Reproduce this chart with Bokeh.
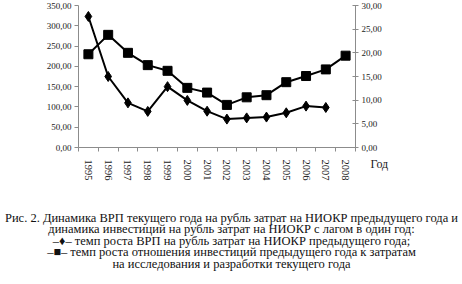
from bokeh.plotting import figure
from bokeh.models import (Range1d, LinearAxis, FixedTicker, Label)
from bokeh.embed import file_html
from bokeh.resources import INLINE

years = ["1995", "1996", "1997", "1998", "1999", "2000", "2001",
         "2002", "2003", "2004", "2005", "2006", "2007", "2008"]
grp_per_rnd = [323, 175, 110, 89, 150, 116, 89.5, 70, 73, 75, 85.5, 102, 98.6]
invest_ratio = [19.7, 23.8, 20.0, 17.4, 16.2, 12.6, 11.6, 9.0, 10.6, 11.05,
                13.8, 15.1, 16.5, 19.4]
left_ticks = [0, 50, 100, 150, 200, 250, 300, 350]
left_labels = ["0,00", "50,00", "100,00", "150,00", "200,00", "250,00", "300,00", "350,00"]
right_ticks = [0, 5, 10, 15, 20, 25, 30]
right_labels = ["0,00", "5,00", "10,00", "15,00", "20,00", "25,00", "30,00"]
caption = [
    "Рис. 2. Динамика ВРП текущего года на рубль затрат на НИОКР предыдущего года и",
    "динамика инвестиций на рубль затрат на НИОКР с лагом в один год:",
    "–♦– темп роста ВРП на рубль затрат на НИОКР предыдущего года;",
    "–■– темп роста отношения инвестиций предыдущего года к затратам",
    "на исследования и разработки текущего года",
]
x_title = "Год"

FONT = "Liberation Serif"
AX = "#8c8c8c"
W, H = 462, 284
# plot-area box in canvas pixels
PL, PR, PT, PB = 78, 355, 5, 147
n = len(years)
ymax_l, ymax_r = 350, 30

# map the whole canvas onto data ranges so that the plot area sits at PL..PR, PT..PB
xu = (PR - PL) / n
x_range = Range1d(-PL / xu, n + (W - PR) / xu)
yu_l = ymax_l / (PB - PT)
y_range = Range1d(-(H - PB) * yu_l, ymax_l + PT * yu_l)
yu_r = ymax_r / (PB - PT)
y_range_r = Range1d(-(H - PB) * yu_r, ymax_r + PT * yu_r)

p = figure(width=W, height=H, output_backend="svg", toolbar_location=None,
           x_range=x_range, y_range=y_range,
           min_border=0, outline_line_color=None,
           background_fill_color="white", border_fill_color="white",
           x_axis_type=None, y_axis_type=None)
p.xgrid.visible = False
p.ygrid.visible = False
p.extra_y_ranges = {"right": y_range_r}

xs_a = [i + 0.5 for i in range(len(grp_per_rnd))]
xs_b = [i + 0.5 for i in range(len(invest_ratio))]

# x axis
xaxis = LinearAxis(ticker=FixedTicker(ticks=[i + 0.5 for i in range(n)],
                                      minor_ticks=list(range(n + 1))),
                   fixed_location=0, bounds=(0, n))
xaxis.major_label_overrides = {i + 0.5: y for i, y in enumerate(years)}
xaxis.major_label_orientation = "vertical"
xaxis.major_tick_line_color = None
xaxis.minor_tick_line_color = AX
xaxis.minor_tick_in = 0
xaxis.minor_tick_out = 4
xaxis.axis_line_color = AX
xaxis.major_label_text_font = FONT
xaxis.major_label_text_font_size = "10.5px"
xaxis.major_label_text_color = "#222222"
xaxis.major_label_standoff = 6
p.add_layout(xaxis, "below")

# left axis
laxis = LinearAxis(ticker=FixedTicker(ticks=left_ticks), fixed_location=0,
                   bounds=(0, ymax_l))
laxis.major_label_overrides = {t: l for t, l in zip(left_ticks, left_labels)}
laxis.axis_line_color = AX
laxis.major_tick_line_color = AX
laxis.major_tick_in = 0
laxis.major_tick_out = 4
laxis.minor_tick_line_color = None
laxis.major_label_text_font = FONT
laxis.major_label_text_font_size = "9px"
laxis.major_label_text_color = "#222222"
laxis.major_label_standoff = 3
p.add_layout(laxis, "left")

# right axis
raxis = LinearAxis(y_range_name="right", ticker=FixedTicker(ticks=right_ticks),
                   fixed_location=n, bounds=(0, ymax_r))
raxis.major_label_overrides = {t: l for t, l in zip(right_ticks, right_labels)}
raxis.axis_line_color = AX
raxis.major_tick_line_color = AX
raxis.major_tick_in = 3
raxis.major_tick_out = 3
raxis.minor_tick_line_color = None
raxis.major_label_text_font = FONT
raxis.major_label_text_font_size = "9px"
raxis.major_label_text_color = "#222222"
raxis.major_label_standoff = 3
p.add_layout(raxis, "right")

# series
p.line(xs_b, invest_ratio, y_range_name="right", line_color="black", line_width=2)
p.scatter(xs_b, invest_ratio, y_range_name="right", marker="square", size=9,
          fill_color="black", line_color="black")
p.line(xs_a, grp_per_rnd, line_color="black", line_width=2)
p.scatter(xs_a, grp_per_rnd, marker="diamond", size=10,
          fill_color="black", line_color="black")

p.add_layout(Label(x=370, y=H - 163, x_units="screen", y_units="screen",
                   text=x_title, text_font=FONT, text_font_size="12px",
                   text_baseline="middle", text_color="#222222"))

ys = [217, 228.5, 240, 251.5, 263]
for line, yy in zip(caption, ys):
    p.add_layout(Label(x=W / 2, y=H - yy, x_units="screen", y_units="screen",
                       text=line, text_font=FONT, text_font_size="12.5px",
                       text_align="center", text_baseline="middle",
                       text_color="#111111"))

open("out.html", "w").write(file_html(p, INLINE))
